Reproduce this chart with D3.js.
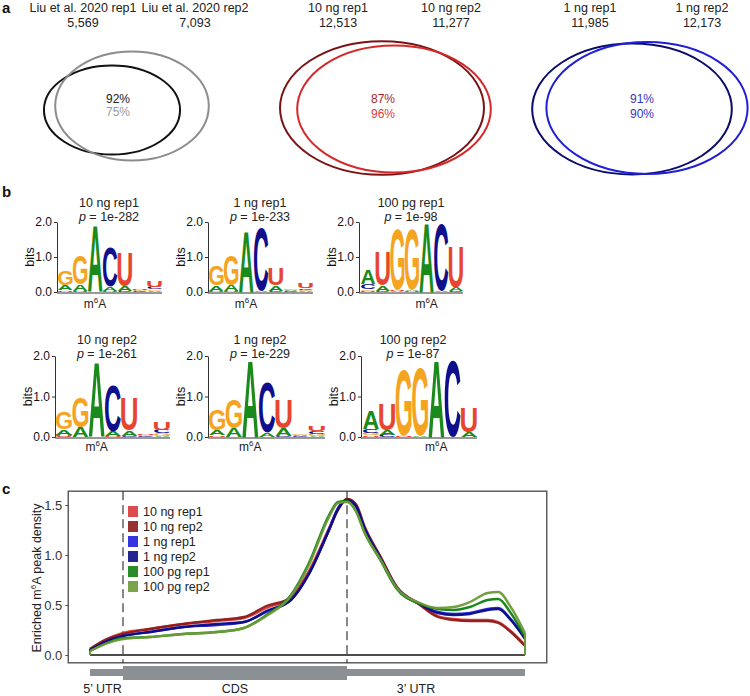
<!DOCTYPE html>
<html>
<head>
<meta charset="utf-8">
<script src="https://cdn.jsdelivr.net/npm/d3@7"></script>
<style>
  body { margin: 0; background: #fff; }
  svg { display: block; font-family: 'Liberation Sans', Arial, sans-serif; }
</style>
</head>
<body>
<svg id="fig" width="750" height="696"></svg>
<script>
// ---- panel a: replicate overlaps
const vennNames = [['Liu et al. 2020 rep1', 'Liu et al. 2020 rep2'], ['10 ng rep1', '10 ng rep2'], ['1 ng rep1', '1 ng rep2']];
const peakCounts = [[5569, 7093], [12513, 11277], [11985, 12173]];
const overlapPct = [[92, 75], [87, 96], [91, 90]];

// ---- panel b: motif logos (stack bottom -> top, height in bits)
const logoNames = ['10 ng rep1', '1 ng rep1', '100 pg rep1', '10 ng rep2', '1 ng rep2', '100 pg rep2'];
const logoPvals = ['1e-282', '1e-233', '1e-98', '1e-261', '1e-229', '1e-87'];
const logo10ngRep1 = [
  [['U', 0.05], ['A', 0.13], ['G', 0.42]],
  [['U', 0.03], ['A', 0.18], ['G', 0.84]],
  [['A', 1.88]],
  [['U', 0.03], ['A', 0.12], ['C', 1.12]],
  [['C', 0.04], ['A', 0.13], ['U', 0.95]],
  [['C', 0.02], ['G', 0.03], ['U', 0.04]],
  [['A', 0.03], ['G', 0.05], ['C', 0.06], ['U', 0.17]]
];
const logo1ngRep1 = [
  [['U', 0.04], ['A', 0.15], ['G', 0.56]],
  [['U', 0.03], ['A', 0.17], ['G', 0.88]],
  [['A', 1.75]],
  [['A', 0.04], ['C', 1.82]],
  [['C', 0.03], ['A', 0.15], ['U', 0.46]],
  [['C', 0.03], ['A', 0.03], ['G', 0.03]],
  [['A', 0.03], ['G', 0.04], ['C', 0.05], ['U', 0.16]]
];
const logo100pgRep1 = [
  [['U', 0.04], ['G', 0.03], ['C', 0.16], ['A', 0.40]],
  [['C', 0.04], ['A', 0.16], ['U', 0.95]],
  [['A', 0.04], ['U', 0.03], ['G', 1.72]],
  [['U', 0.03], ['A', 0.04], ['G', 1.72]],
  [['A', 1.98]],
  [['A', 0.03], ['C', 1.92]],
  [['C', 0.03], ['A', 0.10], ['U', 1.15]]
];
const logo10ngRep2 = [
  [['U', 0.06], ['A', 0.12], ['G', 0.41]],
  [['A', 0.24], ['G', 0.75]],
  [['A', 1.84]],
  [['U', 0.03], ['A', 0.11], ['C', 1.14]],
  [['C', 0.03], ['A', 0.14], ['U', 0.80]],
  [['C', 0.02], ['G', 0.03], ['U', 0.04]],
  [['A', 0.03], ['G', 0.06], ['C', 0.08], ['U', 0.20]]
];
const logo1ngRep2 = [
  [['U', 0.04], ['A', 0.12], ['G', 0.52]],
  [['A', 0.22], ['G', 0.70]],
  [['A', 1.88]],
  [['A', 0.10], ['C', 1.25]],
  [['C', 0.03], ['A', 0.18], ['U', 0.70]],
  [['C', 0.02], ['A', 0.02], ['G', 0.03]],
  [['A', 0.03], ['G', 0.05], ['C', 0.06], ['U', 0.13]]
];
const logo100pgRep2 = [
  [['U', 0.04], ['G', 0.05], ['C', 0.10], ['A', 0.45]],
  [['C', 0.05], ['A', 0.12], ['U', 0.65]],
  [['U', 0.03], ['G', 1.62]],
  [['A', 0.02], ['G', 1.70]],
  [['A', 1.90]],
  [['C', 1.90]],
  [['A', 0.12], ['U', 0.60]]
];
const logoM6aCol = [2, 2, 4, 2, 2, 4];

// ---- panel c: metagene density (0-1 5'UTR, 1-2 CDS, 2-3 3'UTR)
const metaPos = [0, 0.45, 1, 1.12, 1.27, 1.42, 1.54, 1.64, 1.75, 1.83, 1.92, 1.96, 2.0, 2.05, 2.1, 2.19, 2.28, 2.41, 2.51, 2.6, 2.69, 2.79, 2.85, 2.92, 3.0];
const dens10ngRep1 = [0.06, 0.15, 0.22, 0.26, 0.31, 0.34, 0.37, 0.47, 0.58, 0.84, 1.27, 1.46, 1.56, 1.50, 1.27, 0.97, 0.68, 0.51, 0.39, 0.36, 0.35, 0.35, 0.33, 0.24, 0.10];
const dens10ngRep2 = [0.06, 0.15, 0.21, 0.26, 0.31, 0.35, 0.38, 0.49, 0.57, 0.82, 1.25, 1.45, 1.56, 1.51, 1.28, 0.98, 0.68, 0.50, 0.38, 0.35, 0.34, 0.34, 0.32, 0.23, 0.09];
const dens1ngRep1 = [0.05, 0.13, 0.19, 0.23, 0.28, 0.30, 0.33, 0.43, 0.55, 0.81, 1.26, 1.47, 1.55, 1.49, 1.26, 0.96, 0.67, 0.51, 0.43, 0.41, 0.42, 0.46, 0.47, 0.36, 0.17];
const dens1ngRep2 = [0.05, 0.13, 0.19, 0.23, 0.28, 0.31, 0.33, 0.44, 0.55, 0.81, 1.25, 1.46, 1.55, 1.49, 1.26, 0.96, 0.67, 0.51, 0.42, 0.40, 0.41, 0.45, 0.46, 0.35, 0.16];
const dens100pgRep1 = [0.04, 0.11, 0.17, 0.18, 0.21, 0.23, 0.27, 0.40, 0.60, 0.92, 1.40, 1.53, 1.54, 1.44, 1.22, 0.94, 0.66, 0.51, 0.46, 0.45, 0.48, 0.55, 0.56, 0.42, 0.18];
const dens100pgRep2 = [0.04, 0.11, 0.16, 0.18, 0.21, 0.23, 0.27, 0.39, 0.59, 0.90, 1.38, 1.52, 1.53, 1.44, 1.22, 0.95, 0.67, 0.52, 0.47, 0.48, 0.53, 0.62, 0.63, 0.48, 0.22];
const densNames = ['10 ng rep1', '10 ng rep2', '1 ng rep1', '1 ng rep2', '100 pg rep1', '100 pg rep2'];
const geneParts = ["5\u2019 UTR", 'CDS', "3\u2019 UTR"];
const yTicksC = [0, 0.5, 1, 1.5];

const svg = d3.select('#fig');
const txt = '#222';

// panel letters
svg.selectAll('.plab').data([['a', 13], ['b', 197], ['c', 494]]).join('text')
  .attr('x', 2).attr('y', d => d[1]).attr('font-size', 15).attr('font-weight', 'bold')
  .attr('fill', '#111').text(d => d[0]);

// ================= panel a
const vennColors = [['#111111', '#8c8c8c'], ['#7b1214', '#d4282a'], ['#0c0c6a', '#1f1fd6']];
const pctColors = [['#222222', '#9a9a9a'], ['#a3262f', '#e0393b'], ['#3434c4', '#3434c4']];
const vennLayout = [
  { tx: [83, 195], c: [[112, 110], [132, 106]], px: 118 },
  { tx: [338, 451], c: [[382, 108], [394, 109]], px: 383 },
  { tx: [590, 702], c: [[632, 109], [647, 108]], px: 642 }
];
const rScale = d3.scaleSqrt().domain([0, 12513]).range([0, 102]);

vennNames.forEach((pair, gi) => {
  const L = vennLayout[gi];
  const g = svg.append('g');
  pair.forEach((nm, k) => {
    g.append('text').attr('x', L.tx[k]).attr('y', 12).attr('text-anchor', 'middle')
      .attr('font-size', 12.5).attr('fill', txt).text(nm);
    g.append('text').attr('x', L.tx[k]).attr('y', 27).attr('text-anchor', 'middle')
      .attr('font-size', 12.5).attr('fill', txt).text(d3.format(',')(peakCounts[gi][k]));
  });
  peakCounts[gi].forEach((n, k) => {
    const rx = rScale(n);
    g.append('ellipse').attr('cx', L.c[k][0]).attr('cy', L.c[k][1])
      .attr('rx', rx).attr('ry', rx * (gi === 0 && k === 1 ? 0.71 : 0.655))
      .attr('fill', 'none').attr('stroke', vennColors[gi][k]).attr('stroke-width', 2);
  });
  overlapPct[gi].forEach((p, k) => {
    g.append('text').attr('x', L.px).attr('y', 103 + k * (gi === 0 ? 12.7 : 15))
      .attr('text-anchor', 'middle')
      .attr('font-size', 12).attr('fill', pctColors[gi][k]).text(p + '%');
  });
});

// ================= panel b
const letterColor = { A: '#1a8a1a', C: '#0f0f8c', G: '#f5a41f', U: '#e8452f' };
const ctx = document.createElement('canvas').getContext('2d');
ctx.font = "bold 100px 'Liberation Sans'";
const glyph = {};
Object.keys(letterColor).forEach(ch => {
  const m = ctx.measureText(ch);
  glyph[ch] = { l: m.actualBoundingBoxLeft, r: m.actualBoundingBoxRight, a: m.actualBoundingBoxAscent, d: m.actualBoundingBoxDescent };
});

const logos = [logo10ngRep1, logo1ngRep1, logo100pgRep1, logo10ngRep2, logo1ngRep2, logo100pgRep2];
const logoBoxes = [
  { ax: 57, x0: 58, x1: 162, y0: 292, y2: 222, t: 207, m: 308 },
  { ax: 208, x0: 209, x1: 313, y0: 292, y2: 222, t: 207, m: 308 },
  { ax: 359, x0: 361, x1: 463, y0: 292, y2: 222, t: 207, m: 308 },
  { ax: 55, x0: 56, x1: 170, y0: 437, y2: 356, t: 344, m: 451 },
  { ax: 208, x0: 209, x1: 325, y0: 437, y2: 356, t: 344, m: 451 },
  { ax: 361, x0: 363, x1: 477, y0: 437, y2: 356, t: 344, m: 451 }
];

logos.forEach((cols, li) => {
  const B = logoBoxes[li];
  const g = svg.append('g');
  const x = d3.scaleBand().domain(d3.range(cols.length)).range([B.x0, B.x1]).paddingInner(0.03);
  const y = d3.scaleLinear().domain([0, 2]).range([B.y0, B.y2]);

  const ya = g.append('g').attr('transform', `translate(${B.ax},0)`)
    .call(d3.axisLeft(y).tickValues([0, 1, 2]).tickFormat(d3.format('.1f')).tickSize(3).tickPadding(2).tickSizeOuter(0));
  ya.selectAll('text').attr('font-size', 12).attr('fill', '#111').attr('font-family', "'Liberation Sans', Arial");
  ya.selectAll('line,path').attr('stroke', '#333');
  const xa = g.append('g').attr('transform', `translate(0,${B.y0 + 1})`)
    .call(d3.axisBottom(x).tickValues([]).tickSizeOuter(0));
  xa.select('.domain').attr('d', `M${B.ax},0H${B.x1}`).attr('stroke', '#333');

  g.append('text').attr('transform', `translate(${B.ax - 23},${(B.y0 + B.y2) / 2}) rotate(-90)`)
    .attr('text-anchor', 'middle').attr('font-size', 12.5).attr('fill', '#111').text('bits');

  const tc = B.ax + 52;
  g.append('text').attr('x', tc).attr('y', B.t).attr('text-anchor', 'middle')
    .attr('font-size', 12.5).attr('fill', txt).text(logoNames[li]);
  const pt = g.append('text').attr('x', tc).attr('y', B.t + 14).attr('text-anchor', 'middle')
    .attr('font-size', 12.5).attr('fill', txt);
  pt.append('tspan').attr('font-style', 'italic').text('p');
  pt.append('tspan').text(' = ' + logoPvals[li]);

  const mx = x(logoM6aCol[li]) + x.bandwidth() / 2;
  const mt = g.append('text').attr('x', mx).attr('y', B.m).attr('text-anchor', 'middle')
    .attr('font-size', 12).attr('fill', txt);
  mt.append('tspan').text('m');
  mt.append('tspan').attr('font-size', 8).attr('dy', -5).text('6');
  mt.append('tspan').attr('dy', 5).text('A');

  cols.forEach((stack, i) => {
    let base = 0;
    stack.forEach(([ch, h]) => {
      const m = glyph[ch];
      const top = y(base + h), bot = y(base);
      const sx = x.bandwidth() / (m.l + m.r), sy = (bot - top) / (m.a + m.d);
      g.append('text').text(ch)
        .attr('font-size', 100).attr('font-weight', 'bold').attr('font-family', "'Liberation Sans', Arial")
        .attr('fill', letterColor[ch])
        .attr('transform', `translate(${x(i)},${top}) scale(${sx},${sy}) translate(${m.l},${m.a})`);
      base += h;
    });
  });
});

// ================= panel c
const densSeries = [dens10ngRep1, dens10ngRep2, dens1ngRep1, dens1ngRep2, dens100pgRep1, dens100pgRep2];
const densColors = ['#d9383a', '#8e1b1b', '#1f1fdc', '#0d0d85', '#128012', '#6b9a37'];
const xC = d3.scaleLinear().domain([0, 1, 2, 3]).range([90, 123, 347, 525]);
const yC = d3.scaleLinear().domain([0, 1.5]).range([655, 505]);
const yMax = d3.max(densSeries, s => d3.max(s));
const box = { l: xC(0) - 0.05 * (xC(3) - xC(0)), r: xC(3) + 0.05 * (xC(3) - xC(0)), t: yC(yMax * 1.05), b: yC(-yMax * 0.05) };

const gc = svg.append('g');
gc.append('rect').attr('x', box.l).attr('y', box.t).attr('width', box.r - box.l).attr('height', box.b - box.t)
  .attr('fill', 'none').attr('stroke', '#555').attr('stroke-width', 1.4);

const yaC = gc.append('g').attr('transform', `translate(${box.l},0)`)
  .call(d3.axisLeft(yC).tickValues(yTicksC).tickFormat(d3.format('.1f')).tickSize(3).tickSizeOuter(0));
yaC.select('.domain').remove();
yaC.selectAll('line').attr('stroke', '#555');
yaC.selectAll('text').attr('font-size', 13).attr('fill', '#333').attr('font-family', "'Liberation Sans', Arial");

const yl = gc.append('text').attr('transform', `translate(41,${(box.t + box.b) / 2 + 1}) rotate(-90)`)
  .attr('text-anchor', 'middle').attr('font-size', 12.5).attr('fill', txt);
yl.append('tspan').text('Enriched m');
yl.append('tspan').attr('font-size', 8).attr('dy', -5).text('6');
yl.append('tspan').attr('dy', 5).text('A peak density');

// region boundaries
gc.selectAll('.bound').data([1, 2]).join('line')
  .attr('x1', d => xC(d)).attr('x2', d => xC(d)).attr('y1', box.t).attr('y2', box.b)
  .attr('stroke', '#111').attr('stroke-width', 1).attr('stroke-dasharray', '9,5');

// zero line
gc.append('line').attr('x1', xC(0)).attr('x2', xC(3)).attr('y1', yC(0)).attr('y2', yC(0))
  .attr('stroke', '#111').attr('stroke-width', 1.6);

const line = d3.line().x((d, i) => xC(metaPos[i])).y(d => yC(d)).curve(d3.curveMonotoneX);
densSeries.forEach((s, k) => {
  gc.append('path').datum(s).attr('d', line).attr('fill', 'none')
    .attr('stroke', densColors[k]).attr('stroke-width', 2.4).attr('stroke-opacity', 0.95);
  [0, s.length - 1].forEach(i => {
    gc.append('line').attr('x1', xC(metaPos[i])).attr('x2', xC(metaPos[i]))
      .attr('y1', yC(s[i])).attr('y2', yC(0)).attr('stroke', densColors[k]).attr('stroke-width', 2);
  });
});

// legend
const lg = gc.append('g').attr('transform', 'translate(128,506)');
densNames.forEach((nm, k) => {
  lg.append('rect').attr('x', 0).attr('y', k * 15).attr('width', 10).attr('height', 11)
    .attr('fill', densColors[k]).attr('fill-opacity', 0.9);
  lg.append('text').attr('x', 15).attr('y', k * 15 + 5.5).attr('dy', '0.35em')
    .attr('font-size', 12.5).attr('fill', txt).text(nm);
});

// gene model
const labelShift = [-4, 0, -20];
geneParts.forEach((nm, i) => {
  const thick = nm === 'CDS';
  gc.append('rect').attr('x', xC(i)).attr('width', xC(i + 1) - xC(i))
    .attr('y', thick ? 666 : 669).attr('height', thick ? 14 : 7).attr('fill', '#8a9093');
  gc.append('text').attr('x', (xC(i) + xC(i + 1)) / 2 + labelShift[i]).attr('y', 693)
    .attr('text-anchor', 'middle').attr('font-size', 12.5).attr('fill', txt).text(nm);
});
</script>
</body>
</html>
